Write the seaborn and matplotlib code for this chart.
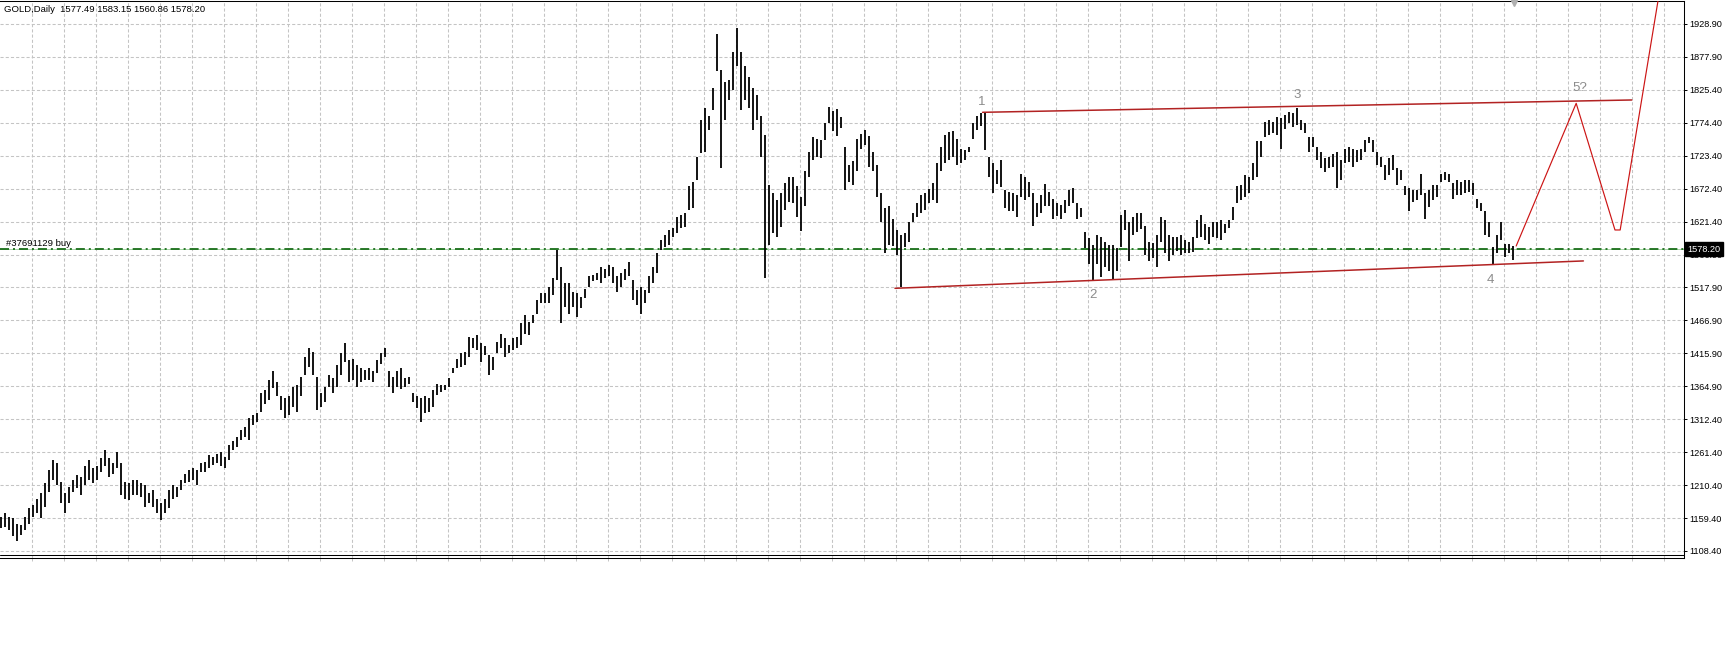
"""
plot.py
GOLD daily bar chart (MT4 style) with wave count, channel and forecast path.
"""

import matplotlib
matplotlib.use("Agg")
import numpy as np
import pandas as pd
import matplotlib.pyplot as plt
import matplotlib.transforms as mtransforms
from matplotlib.lines import Line2D
import seaborn as sns

TITLE = "GOLD,Daily  1577.49 1583.15 1560.86 1578.20"
ORDER_LABEL = "#37691129 buy"
ORDER_PRICE = 1578.20
LAST_PRICE_LABEL = "1578.20"

# daily highs / lows, oldest first
HIGHS = [
    1162, 1167, 1162, 1159, 1151, 1149, 1162, 1175, 1180, 1190,
    1198, 1214, 1234, 1250, 1245, 1216, 1198, 1208, 1219, 1227,
    1224, 1240, 1250, 1237, 1240, 1253, 1266, 1253, 1245, 1263,
    1245, 1216, 1214, 1219, 1219, 1214, 1211, 1198, 1203, 1190,
    1183, 1190, 1203, 1211, 1208, 1219, 1229, 1234, 1237, 1234,
    1245, 1247, 1258, 1255, 1260, 1263, 1255, 1273, 1279, 1286,
    1297, 1302, 1315, 1320, 1323, 1354, 1359, 1375, 1388, 1372,
    1349, 1346, 1349, 1364, 1367, 1380, 1411, 1424, 1419, 1380,
    1354, 1364, 1382, 1377, 1398, 1416, 1432, 1406, 1408, 1398,
    1393, 1390, 1393, 1388, 1406, 1416, 1424, 1388, 1380, 1388,
    1393, 1377, 1380, 1354, 1349, 1346, 1349, 1346, 1359, 1369,
    1367, 1367, 1377, 1393, 1408, 1416, 1419, 1442, 1440, 1445,
    1432, 1427, 1414, 1411, 1434, 1447, 1440, 1429, 1440, 1442,
    1463, 1476, 1465, 1476, 1499, 1510, 1510, 1520, 1533, 1577,
    1551, 1525, 1525, 1512, 1510, 1504, 1517, 1536, 1538, 1541,
    1551, 1548, 1554, 1551, 1536, 1541, 1548, 1559, 1530, 1515,
    1520, 1515, 1536, 1551, 1572, 1593, 1600, 1608, 1611, 1629,
    1632, 1634, 1676, 1683, 1722, 1779, 1798, 1785, 1829, 1914,
    1857, 1839, 1842, 1886, 1922, 1886, 1863, 1847, 1829, 1818,
    1785, 1756, 1678, 1665, 1655, 1665, 1681, 1691, 1691, 1676,
    1660, 1700, 1730, 1753, 1750, 1748, 1775, 1800, 1794, 1797,
    1784, 1738, 1709, 1716, 1750, 1758, 1764, 1755, 1730, 1710,
    1665, 1642, 1645, 1625, 1608, 1600, 1603, 1620, 1634, 1650,
    1662, 1665, 1672, 1682, 1712, 1738, 1756, 1760, 1763, 1750,
    1735, 1733, 1738, 1774, 1785, 1790, 1792, 1722, 1712, 1702,
    1717, 1670, 1668, 1665, 1662, 1695, 1690, 1683, 1665, 1650,
    1662, 1680, 1668, 1657, 1650, 1647, 1655, 1670, 1673, 1650,
    1642, 1605, 1595, 1585, 1600, 1598, 1590, 1585, 1585, 1580,
    1632, 1640, 1620, 1628, 1635, 1635, 1615, 1590, 1588, 1600,
    1628, 1623, 1600, 1598, 1597, 1600, 1592, 1590, 1598, 1624,
    1631, 1618, 1613, 1621, 1621, 1624, 1618, 1624, 1644, 1676,
    1678, 1694, 1691, 1712, 1746, 1746, 1777, 1779, 1777, 1784,
    1782, 1787, 1792, 1790, 1798, 1779, 1774, 1753, 1753, 1738,
    1730, 1720, 1722, 1727, 1730, 1717, 1735, 1738, 1735, 1733,
    1735, 1748, 1753, 1748, 1730, 1722, 1709, 1720, 1725, 1704,
    1701, 1676, 1673, 1670, 1670, 1696, 1665, 1670, 1678, 1678,
    1696, 1699, 1696, 1681, 1686, 1683, 1686, 1686, 1681, 1657,
    1650, 1637, 1621, 1582, 1600, 1621, 1587, 1587, 1583,
]
LOWS = [
    1144, 1146, 1141, 1131, 1124, 1133, 1141, 1151, 1162, 1167,
    1159, 1177, 1201, 1219, 1211, 1183, 1167, 1183, 1201, 1206,
    1195, 1211, 1219, 1214, 1219, 1232, 1240, 1224, 1229, 1237,
    1195, 1190, 1188, 1195, 1195, 1193, 1177, 1183, 1177, 1167,
    1157, 1167, 1175, 1190, 1193, 1203, 1214, 1216, 1219, 1211,
    1232, 1232, 1237, 1242, 1245, 1240, 1237, 1250, 1266, 1271,
    1281, 1286, 1281, 1305, 1310, 1325, 1338, 1343, 1362, 1349,
    1328, 1315, 1320, 1333, 1325, 1349, 1382, 1395, 1382, 1328,
    1333, 1341, 1364, 1354, 1364, 1382, 1403, 1372, 1375, 1364,
    1372, 1375, 1375, 1372, 1385, 1400, 1411, 1364, 1354, 1364,
    1360, 1364, 1369, 1341, 1331, 1310, 1323, 1325, 1333, 1351,
    1356, 1359, 1364, 1385, 1393, 1395, 1398, 1411, 1424, 1421,
    1403, 1414, 1382, 1390, 1416, 1424, 1411, 1416, 1421, 1424,
    1429, 1447, 1445, 1463, 1478, 1494, 1494, 1494, 1507, 1530,
    1463, 1489, 1478, 1489, 1473, 1486, 1502, 1520, 1528, 1530,
    1525, 1533, 1536, 1525, 1512, 1520, 1530, 1536, 1499, 1491,
    1478, 1494, 1510, 1525, 1541, 1577, 1582, 1585, 1598, 1603,
    1611, 1613, 1640, 1642, 1686, 1728, 1730, 1764, 1795, 1855,
    1704, 1779, 1811, 1826, 1863, 1795, 1811, 1798, 1764, 1779,
    1722, 1533, 1585, 1603, 1598, 1613, 1640, 1652, 1650, 1629,
    1606, 1645, 1690, 1717, 1722, 1720, 1748, 1775, 1763, 1755,
    1767, 1670, 1683, 1678, 1700, 1735, 1740, 1707, 1700, 1660,
    1620, 1572, 1585, 1583, 1570, 1519, 1582, 1590, 1620, 1628,
    1634, 1640, 1650, 1655, 1650, 1700, 1712, 1717, 1722, 1710,
    1712, 1717, 1730, 1750, 1764, 1770, 1733, 1690, 1665, 1680,
    1675, 1642, 1637, 1637, 1628, 1660, 1655, 1660, 1614, 1628,
    1634, 1645, 1645, 1625, 1630, 1626, 1634, 1646, 1650, 1626,
    1628, 1580, 1555, 1528, 1556, 1535, 1550, 1545, 1530, 1545,
    1582, 1608, 1560, 1600, 1605, 1610, 1570, 1560, 1565, 1550,
    1590, 1572, 1560, 1570, 1575, 1569, 1572, 1572, 1574, 1595,
    1598, 1592, 1587, 1598, 1595, 1592, 1603, 1611, 1624, 1650,
    1655, 1660, 1665, 1686, 1691, 1722, 1753, 1756, 1759, 1756,
    1735, 1766, 1774, 1769, 1772, 1764, 1759, 1730, 1738, 1717,
    1704, 1699, 1704, 1707, 1673, 1686, 1712, 1714, 1707, 1714,
    1717, 1730, 1743, 1730, 1709, 1707, 1686, 1694, 1701, 1678,
    1686, 1663, 1637, 1652, 1655, 1663, 1626, 1644, 1655, 1660,
    1683, 1686, 1683, 1657, 1663, 1663, 1665, 1668, 1663, 1642,
    1637, 1600, 1598, 1555, 1572, 1592, 1566, 1572, 1561,
]

# trend channel and forecast path, (bar index, price)
UPPER_X = [245.4, 407.7]
UPPER_Y = [1791.4, 1810.6]
LOWER_X = [223.5, 395.6]
LOWER_Y = [1517.4, 1560.0]
PATH_X = [378.8, 393.8, 403.5, 404.8, 414.6]
PATH_Y = [1583.3, 1805.4, 1608.2, 1608.2, 1978.0]

WAVE_LABELS = ["1", "2", "3", "4", "5?"]
WAVE_X = [245.2, 273.1, 324.0, 372.4, 394.8]
WAVE_Y = [1808, 1507, 1818, 1530, 1830]

Y_TICK_LABELS = [
    "1108.40", "1159.40", "1210.40", "1261.40", "1312.40", "1364.90",
    "1415.90", "1466.90", "1517.90", "1566.90", "1621.40", "1672.40",
    "1723.40", "1774.40", "1825.40", "1877.90", "1928.90",
]


def main():
    sns.set_theme(style="white")
    plt.rcParams["font.family"] = ["Liberation Sans", "DejaVu Sans"]

    fig = plt.figure(figsize=(17.28, 6.48), dpi=100)
    # plot frame: x 0..1684 px, y 1..558 px (from top)
    ax = fig.add_axes([0.0, 1 - 558 / 648, 1683.7 / 1728, 557 / 648])
    ax.set_xlim(-0.25, 420.68)
    ax.set_ylim(1097.5, 1964.7)

    # grid
    xgrid = 7.85 + 8 * np.arange(52)
    yticks = np.linspace(1108.4, 1928.9, len(Y_TICK_LABELS))
    ax.set_xticks(xgrid)
    ax.set_yticks(yticks)
    ax.set_yticklabels(Y_TICK_LABELS)
    ax.set_xticklabels([])
    ax.grid(True, color="#c4c4c4", linestyle=(0, (3, 2)), linewidth=0.75)
    ax.set_axisbelow(True)

    ax.yaxis.tick_right()
    ax.tick_params(axis="y", which="both", right=True, left=False, length=2.4,
                   width=0.7, color="black", labelsize=6.6, pad=1.6,
                   labelcolor="black")
    ax.tick_params(axis="x", bottom=True, length=2.5, width=0.7,
                   color="#c4c4c4")

    ax.spines["left"].set_visible(False)
    for side in ("top", "right", "bottom"):
        ax.spines[side].set_color("black")
        ax.spines[side].set_linewidth(0.75)
    ax.add_line(Line2D([0, 1], [2.7 / 557] * 2, transform=ax.transAxes,
                       color="black", lw=0.75, clip_on=False))

    # order line
    ax.axhline(ORDER_PRICE, color="#a6d6a6", lw=0.7, zorder=2)
    ax.axhline(ORDER_PRICE, color="#1a6e1a", lw=1.3,
               linestyle=(0, (5.0, 2.2, 1.1, 2.2)), zorder=2)
    trans = mtransforms.blended_transform_factory(ax.transAxes, ax.transData)
    ax.annotate(ORDER_LABEL, xy=(0.0035, ORDER_PRICE), xycoords=trans,
                xytext=(0, 1.2), textcoords="offset points", fontsize=6.8,
                color="black", va="bottom", ha="left")

    # price bars
    idx = np.arange(len(HIGHS))
    ax.vlines(idx, LOWS, HIGHS, colors="black", linewidth=1.3, zorder=3)

    # channel + forecast
    sns.lineplot(x=UPPER_X, y=UPPER_Y, ax=ax, color="#b22222", lw=1.1,
                 estimator=None, sort=False, zorder=4)
    sns.lineplot(x=LOWER_X, y=LOWER_Y, ax=ax, color="#b22222", lw=1.1,
                 estimator=None, sort=False, zorder=4)
    sns.lineplot(x=PATH_X, y=PATH_Y, ax=ax, color="#cc1414", lw=0.85,
                 estimator=None, sort=False, zorder=4)

    for lab, x, y in zip(WAVE_LABELS, WAVE_X, WAVE_Y):
        ax.text(x, y, lab, fontsize=9.5, color="#8c8c8c", ha="center",
                va="center", zorder=5)

    # chart shift marker
    ax.plot([len(HIGHS) - 0.75], [1961.6], marker="v", ms=5,
            color="#b0b0b0", clip_on=False, zorder=5)

    # last price box on the axis
    ax.annotate(LAST_PRICE_LABEL, xy=(1.0, ORDER_PRICE), xycoords=trans,
                xytext=(2.6, 0), textcoords="offset points", fontsize=6.6,
                color="white", va="center", ha="left", zorder=10,
                annotation_clip=False,
                bbox=dict(boxstyle="square,pad=0.3", fc="black", ec="black"))

    fig.text(4 / 1728, 1 - 9.5 / 648, TITLE, fontsize=6.8, color="black",
             ha="left", va="center")

    ax.set_xlabel("")
    ax.set_ylabel("")
    fig.savefig("out.png", dpi=100, facecolor="white")
    plt.close(fig)


if __name__ == "__main__":
    main()
